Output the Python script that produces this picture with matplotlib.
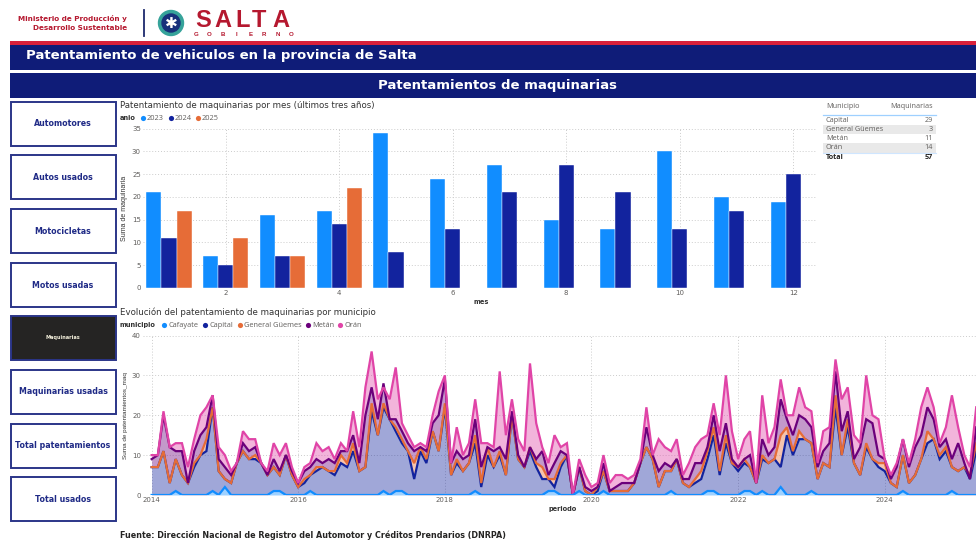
import matplotlib
matplotlib.use('Agg')
import matplotlib.pyplot as plt
import matplotlib.dates as mdates
from matplotlib.patches import Rectangle, Circle
import pandas as pd
import numpy as np

# bars: registrations per month
meses = list(range(1, 13))
anios = ['2023', '2024', '2025']
bar_2023 = [21, 7, 16, 17, 34, 24, 27, 15, 13, 30, 20, 19]
bar_2024 = [11, 5, 7, 14, 8, 13, 21, 27, 21, 13, 17, 25]
bar_2025 = [17, 11, 7, 22, 0, 0, 0, 0, 0, 0, 0, 0]

# areas: monthly series from 2014-01
cafayate = [0, 0, 0, 0, 1, 0, 0, 0, 0, 0, 1, 0,
            2, 0, 0, 0, 0, 0, 0, 0, 1, 1, 0, 0,
            0, 0, 1, 0, 0, 0, 0, 0, 0, 0, 0, 0,
            0, 0, 1, 0, 1, 1, 0, 0, 0, 0, 0, 0,
            0, 0, 0, 0, 0, 1, 0, 0, 0, 0, 0, 0,
            0, 0, 0, 0, 0, 1, 1, 0, 0, 0, 1, 0,
            0, 0, 1, 0, 0, 0, 0, 0, 0, 0, 0, 0,
            0, 1, 0, 0, 0, 0, 0, 1, 1, 0, 0, 0,
            0, 1, 1, 0, 1, 0, 0, 2, 0, 0, 0, 0,
            1, 0, 0, 0, 0, 0, 0, 0, 0, 0, 0, 0,
            0, 0, 0, 1, 0, 0, 0, 0, 0, 0, 0, 1,
            0, 0, 0, 0]
capital = [7, 7, 11, 3, 9, 5, 3, 7, 10, 11, 22, 6, 4, 3, 8, 11, 9, 9, 8, 5, 7, 5, 10, 5, 2, 3, 5, 6, 7, 6,
           5, 8, 7, 11, 6, 7, 21, 15, 22, 19, 16, 13, 11, 4, 11, 8, 16, 11, 22, 5, 8, 6, 8, 13, 2, 10, 7, 10, 5, 20, 9, 7, 11, 7, 4, 4,
           2, 7, 10, 0, 7, 1, 0, 1, 6, 1, 1, 1, 1, 3, 8, 12, 9, 2, 6, 6, 9, 3, 2, 3, 4, 9, 15, 5, 13, 8, 6, 8, 7, 3,
           9, 8, 9, 7, 15, 10, 14, 14, 13, 4, 8, 7, 22, 10, 17, 8, 5, 12, 9, 7, 6, 3, 2, 10, 3, 5, 9, 13, 14, 9, 11, 7, 6, 7, 4, 11]
guemes = [7, 7, 11, 3, 9, 5, 3, 8, 10, 14, 22, 6, 4, 3, 8, 11, 9, 10, 8, 5, 7, 5, 10, 5, 2, 4, 5, 7, 7, 6,
          6, 10, 8, 13, 6, 7, 23, 15, 23, 19, 17, 14, 11, 8, 12, 9, 16, 11, 23, 5, 9, 6, 8, 15, 3, 12, 7, 11, 5, 20, 9, 7, 12, 8, 7, 4,
          4, 8, 10, 0, 7, 1, 0, 2, 6, 1, 1, 1, 1, 3, 8, 12, 9, 2, 6, 6, 9, 3, 2, 4, 6, 11, 17, 6, 15, 8, 7, 9, 7, 3,
          10, 8, 9, 15, 17, 11, 16, 14, 13, 4, 8, 7, 25, 10, 19, 8, 5, 13, 9, 8, 8, 3, 2, 10, 3, 5, 9, 16, 14, 10, 12, 7, 6, 7, 5, 13]
metan = [9, 10, 20, 12, 11, 11, 3, 11, 15, 17, 25, 9, 7, 5, 8, 13, 11, 12, 8, 5, 9, 6, 10, 6, 3, 6, 7, 9, 8, 9,
         8, 11, 11, 15, 8, 20, 27, 19, 28, 19, 19, 16, 13, 11, 12, 11, 18, 20, 29, 8, 11, 9, 10, 19, 7, 12, 11, 12, 9, 21, 10, 7, 12, 9, 11, 5,
         8, 11, 10, 0, 7, 2, 1, 2, 8, 1, 2, 3, 3, 3, 8, 17, 10, 6, 8, 7, 9, 4, 4, 8, 8, 12, 20, 11, 18, 9, 7, 9, 10, 3,
         14, 10, 12, 24, 19, 15, 20, 19, 17, 7, 11, 13, 31, 16, 21, 9, 12, 19, 18, 10, 9, 4, 7, 14, 7, 12, 15, 22, 19, 12, 14, 9, 13, 8, 4, 17]
oran = [10, 10, 21, 12, 13, 13, 7, 14, 20, 22, 25, 12, 10, 6, 8, 16, 14, 14, 8, 6, 13, 10, 13, 7, 3, 7, 8, 13, 11, 12,
        9, 13, 11, 21, 12, 27, 36, 24, 27, 24, 32, 18, 15, 12, 13, 12, 20, 26, 30, 8, 17, 10, 13, 24, 13, 13, 12, 31, 15, 24, 14, 11, 33, 18, 12, 8,
        15, 12, 13, 0, 9, 5, 2, 3, 10, 3, 5, 5, 4, 5, 9, 22, 10, 14, 12, 11, 14, 5, 8, 12, 14, 15, 23, 15, 30, 16, 9, 14, 16, 3,
        25, 13, 17, 29, 20, 20, 27, 22, 21, 8, 16, 17, 34, 24, 27, 15, 13, 30, 20, 19, 9, 5, 8, 14, 8, 14, 22, 27, 22, 13, 17, 25, 17, 10, 7, 22]
municipios = ['Cafayate', 'Capital', 'General Güemes', 'Metán', 'Orán']

# table
tabla_muni = ['Capital', 'General Güemes', 'Metán', 'Orán']
tabla_vals = [29, 3, 11, 14]
tabla_total = 57

botones = ['Automotores', 'Autos usados', 'Motocicletas', 'Motos usadas', 'Maquinarias',
           'Maquinarias usadas', 'Total patentamientos', 'Total usados']
boton_y = [102, 155, 209, 263, 316, 370, 424, 477]

C_BLUE = '#118DFF'
C_NAVY = '#12239E'
C_ORANGE = '#E66C37'
C_PURPLE = '#6B007B'
C_PINK = '#E044A7'
BAND = '#0F1C78'
GREY = '#605E5C'
UI_FONT = ['Open Sans', 'DejaVu Sans']
ARIAL = ['Liberation Sans', 'DejaVu Sans']
WIDE = ['DejaVu Sans']

W, H = 976, 540
fig = plt.figure(figsize=(W / 100, H / 100), dpi=100)

# full figure axes in pixels for header, buttons, titles and table
bg = fig.add_axes([0, 0, 1, 1])
bg.set_xlim(0, W)
bg.set_ylim(H, 0)
bg.axis('off')


def px_axes(x0, y0, x1, y1):
    return fig.add_axes([x0 / W, 1 - y1 / H, (x1 - x0) / W, (y1 - y0) / H])


# logos
bg.text(127, 19, 'Ministerio de Producción y', color='#b5182f', fontsize=5.2, fontweight='bold',
        family=WIDE, ha='right', va='center')
bg.text(127, 27.5, 'Desarrollo Sustentable', color='#b5182f', fontsize=5.2, fontweight='bold',
        family=WIDE, ha='right', va='center')
bg.plot([144, 144], [10, 36], color='#1d2a6d', lw=1.3)
bg.add_patch(Circle((171, 23), 12.5, color='#36a39a'))
bg.add_patch(Circle((171, 23), 9, color='#17307a'))
bg.text(171, 23, '✱', color='white', fontsize=11, ha='center', va='center', family=WIDE)
bg.add_patch(Circle((171, 23), 2, color='#f2b632'))
for letra, xl in zip('SALTA', [203, 223, 243, 259, 281]):
    bg.text(xl, 27, letra, color='#b5182f', fontsize=17, fontweight='bold', family=ARIAL,
            ha='center', va='baseline')
for letra, xl in zip('GOBIERNO', np.linspace(196, 291, 8)):
    bg.text(xl, 34.5, letra, color='#b5182f', fontsize=4.4, fontweight='bold', family=ARIAL,
            ha='center', va='center')

# bands
bg.add_patch(Rectangle((10, 41), W - 10, 4, color='#d9203a', lw=0))
bg.add_patch(Rectangle((10, 45), W - 10, 25, color=BAND, lw=0))
bg.add_patch(Rectangle((10, 72.5), W - 10, 25, color=BAND, lw=0))
bg.text(26, 56, 'Patentamiento de vehiculos en la provincia de Salta', color='white', fontsize=9.55,
        fontweight='bold', family=WIDE, va='center')
bg.text(498, 85, 'Patentamientos de maquinarias', color='white', fontsize=9.55,
        fontweight='bold', family=WIDE, ha='center', va='center')

# buttons
for nombre, y in zip(botones, boton_y):
    activo = nombre == 'Maquinarias'
    bg.add_patch(Rectangle((10.5, y), 105.5, 44, facecolor='#252423' if activo else 'white',
                           edgecolor='#2B3588', lw=1.4))
    bg.text(63, y + 22, nombre, color='#f4f0dc' if activo else '#1f2a86',
            fontsize=3.6 if activo else 5.7, fontweight='bold',
            family=WIDE, ha='center', va='center')

# titles and legends
bg.text(120, 105, 'Patentamiento de maquinarias por mes (últimos tres años)', color='#333333',
        fontsize=6.2, family=WIDE, va='center')
bg.text(120, 312.5, 'Evolución del patentamiento de maquinarias por municipio', color='#333333',
        fontsize=6.2, family=WIDE, va='center')
bg.text(120, 118.5, 'anio', color='#333333', fontsize=4.8, fontweight='bold', family=WIDE, va='center')
for anio, col, xl in zip(anios, [C_BLUE, C_NAVY, C_ORANGE], [143, 171, 198]):
    bg.scatter([xl], [118], s=14, color=col, lw=0)
    bg.text(xl + 4, 118.5, anio, color=GREY, fontsize=5.3, family=UI_FONT, va='center')
bg.text(120, 325.5, 'municipio', color='#333333', fontsize=4.8, fontweight='bold', family=WIDE, va='center')
for muni, col, xl in zip(municipios, [C_BLUE, C_NAVY, C_ORANGE, C_PURPLE, C_PINK], [164, 205, 240, 308, 340]):
    bg.scatter([xl], [325], s=14, color=col, lw=0)
    bg.text(xl + 4.5, 325.5, muni, color=GREY, fontsize=5.3, family=UI_FONT, va='center')

bg.text(120, 535, 'Fuente: Dirección Nacional de Registro del Automotor y Créditos Prendarios (DNRPA)',
        color='#252423', fontsize=5.8, fontweight='bold', family=WIDE, va='center')

# table
bg.text(826, 107, 'Municipio', color=GREY, fontsize=5.2, family=UI_FONT, va='center')
bg.text(933, 107, 'Maquinarias', color=GREY, fontsize=5.2, family=UI_FONT, va='center', ha='right')
bg.plot([823, 936], [114.5, 114.5], color='#9fd0ff', lw=0.9)
fila_y = 120
for k, (muni, val) in enumerate(zip(tabla_muni, tabla_vals)):
    if k % 2 == 1:
        bg.add_patch(Rectangle((823, fila_y - 4.7), 113, 9.4, color='#e9e9e9', lw=0))
    bg.text(826, fila_y, muni, color=GREY, fontsize=5.2, family=UI_FONT, va='center')
    bg.text(933, fila_y, str(val), color=GREY, fontsize=5.2, family=UI_FONT, va='center', ha='right')
    fila_y += 9.33
bg.plot([823, 936], [152.8, 152.8], color='#cfe6ff', lw=0.8)
bg.text(826, fila_y, 'Total', color='#252423', fontsize=5.2, fontweight='bold', family=UI_FONT, va='center')
bg.text(933, fila_y, str(tabla_total), color='#252423', fontsize=5.2, fontweight='bold', family=UI_FONT,
        va='center', ha='right')

# bar chart
ax = px_axes(143, 128.7, 817, 288)
ax.patch.set_alpha(0)
ancho = 0.265
for k, (vals, col) in enumerate(zip([bar_2023, bar_2024, bar_2025], [C_BLUE, C_NAVY, C_ORANGE])):
    ax.bar([m + (k - 1) * ancho for m in meses], vals, width=ancho, color=col, zorder=3,
           edgecolor='white', linewidth=0.3)
ax.set_xlim(1 + (143 - 169) / 56.75, 1 + (817 - 169) / 56.75)
ax.set_ylim(0, 35)
ax.set_xticks(range(2, 13, 2))
ax.set_yticks(range(0, 36, 5))
ax.grid(True, color='#cccccc', linestyle=(0, (1, 2)), linewidth=0.7, zorder=0)
ax.tick_params(length=0, labelsize=5, labelcolor=GREY, pad=1.5)
ax.set_ylabel('Suma de maquinaria', fontsize=5, color='#333333', family=ARIAL)
ax.yaxis.set_label_coords((128 - 143) / 674, 0.5)
for s in ax.spines.values():
    s.set_visible(False)
bg.text(481, 301.5, 'mes', color='#333333', fontsize=4.8, fontweight='bold', family=WIDE,
        ha='center', va='center')

# area chart, each band filled down to the series below it
ax2 = px_axes(143, 335.5, 976, 495)
ax2.patch.set_alpha(0)
periodos = pd.date_range('2014-01-01', periods=len(oran), freq='MS')
series = [cafayate, capital, guemes, metan, oran]
colores = [C_BLUE, C_NAVY, C_ORANGE, C_PURPLE, C_PINK]
abajo = [0] * len(oran)
for vals, col in zip(series, colores):
    ax2.fill_between(periodos, abajo, vals, color=col, alpha=0.4, lw=0, zorder=3)
    abajo = vals
for vals, col, z in zip(series, colores, [8, 4, 5, 6, 7]):
    ax2.plot(periodos, vals, color=col, lw=1.6, zorder=z, solid_joinstyle='miter')
d0 = mdates.date2num(pd.Timestamp('2014-01-01'))
ax2.set_xlim(d0 - 43, d0 + 4107)
ax2.set_ylim(0, 40)
ax2.set_xticks([pd.Timestamp(f'{a}-01-01') for a in range(2014, 2026, 2)])
ax2.xaxis.set_major_formatter(mdates.DateFormatter('%Y'))
ax2.set_yticks(range(0, 41, 10))
ax2.grid(True, color='#cccccc', linestyle=(0, (1, 2)), linewidth=0.7, zorder=0)
ax2.tick_params(length=0, labelsize=5, labelcolor=GREY, pad=1.5)
ax2.set_ylabel('Suma de patentamientos_maq', fontsize=4.6, color='#333333', family=ARIAL)
ax2.yaxis.set_label_coords((128 - 143) / 833, 0.5)
for s in ax2.spines.values():
    s.set_visible(False)
bg.text(563, 509, 'periodo', color='#333333', fontsize=4.8, fontweight='bold', family=WIDE,
        ha='center', va='center')

fig.savefig('out.png', dpi=100)
